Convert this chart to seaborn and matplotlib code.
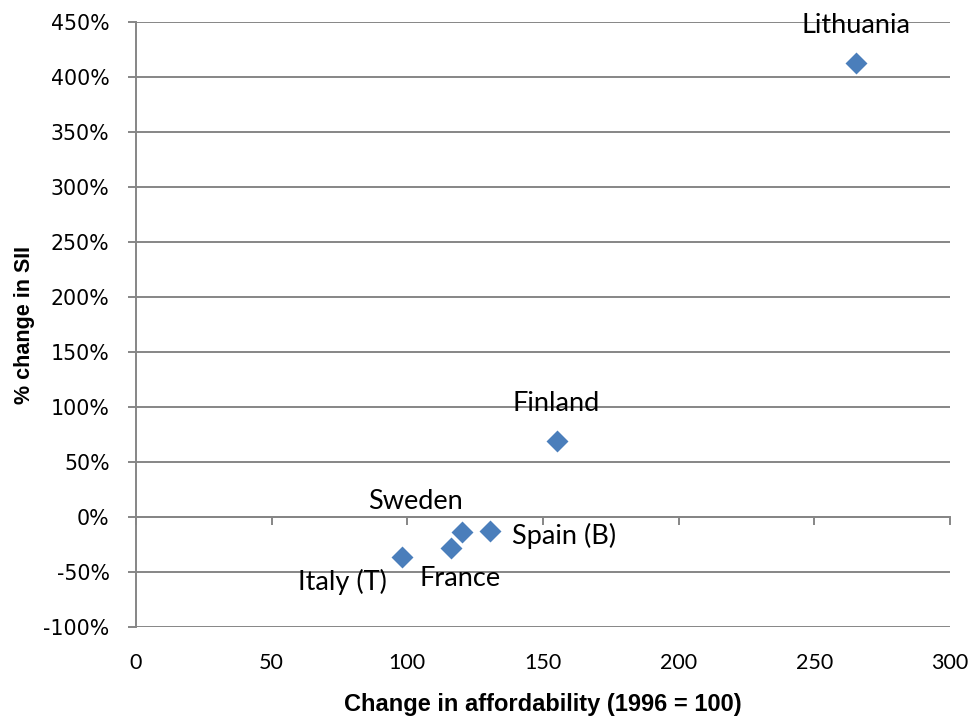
import pandas as pd
import seaborn as sns
import matplotlib.pyplot as plt
import matplotlib.ticker as ticker

# Values
countries = ["Lithuania", "Finland", "Spain (B)", "Sweden", "France", "Italy (T)"]
affordability = [265.5, 155.0, 130.5, 120.0, 116.0, 98.0]
sii_change = [4.13, 0.69, -0.13, -0.14, -0.28, -0.36]

data = pd.DataFrame({"country": countries, "afford": affordability, "sii": sii_change})

# label offsets in points (dx, dy)
offsets = {
    "Lithuania": (0, 27),
    "Finland": (0, 27),
    "Spain (B)": (53, -3),
    "Sweden": (-33, 22),
    "France": (6.5, -22),
    "Italy (T)": (-43, -18),
}

grid_col = "#868686"
blue = "#4a7ebb"

sns.set_theme(style="white")

fig = plt.figure(figsize=(9.75, 7.17), dpi=100)
ax = fig.add_axes([136 / 975, 1 - 627 / 717, (950 - 136) / 975, (627 - 22) / 717])

sns.scatterplot(data=data, x="afford", y="sii", marker="D", s=125,
                color=blue, linewidth=0, ax=ax, zorder=3)

ax.set_xlim(0, 300)
ax.set_ylim(-1.0, 4.5)
ax.xaxis.set_major_locator(ticker.MultipleLocator(50))
ax.yaxis.set_major_locator(ticker.MultipleLocator(0.5))
ax.yaxis.set_major_formatter(ticker.FuncFormatter(lambda v, p: f"{v * 100:.0f}%"))

# horizontal gridlines only
ax.grid(axis="y", color=grid_col, linewidth=1.4)
ax.grid(axis="x", visible=False)
for side in ["top", "right", "bottom"]:
    ax.spines[side].set_visible(False)
ax.spines["left"].set_color(grid_col)
ax.spines["left"].set_linewidth(1.4)

ax.tick_params(axis="y", left=True, direction="out", length=6, width=1.4,
               color=grid_col, pad=13, labelcolor="black")
ax.tick_params(axis="x", bottom=False, length=0, pad=19, labelcolor="black")
for lab in ax.get_yticklabels():
    lab.set_fontfamily("DejaVu Sans")
    lab.set_fontsize(14.8)
for lab in ax.get_xticklabels():
    lab.set_fontfamily("Lato")
    lab.set_fontsize(15.5)

# horizontal axis crossing at 0%
sec = ax.secondary_xaxis(1.0 / 5.5)
sec.spines["bottom"].set_color(grid_col)
sec.spines["bottom"].set_linewidth(1.4)
sec.xaxis.set_major_locator(ticker.MultipleLocator(50))
sec.tick_params(axis="x", direction="out", length=6, width=1.4, color=grid_col,
                labelbottom=False)

for c, x, y in zip(countries, affordability, sii_change):
    ax.annotate(c, (x, y), xytext=offsets[c], textcoords="offset points",
                ha="center", va="center", fontsize=19.5, family="Lato",
                color="black", zorder=4)

ax.set_xlabel("Change in affordability (1996 = 100)", fontsize=17, fontweight="bold",
              family="Liberation Sans", color="black", labelpad=14)
ax.set_ylabel("% change in SII", fontsize=15.5, fontweight="bold",
              family="Liberation Sans", color="black", labelpad=6)

fig.savefig("out.png", dpi=100)
